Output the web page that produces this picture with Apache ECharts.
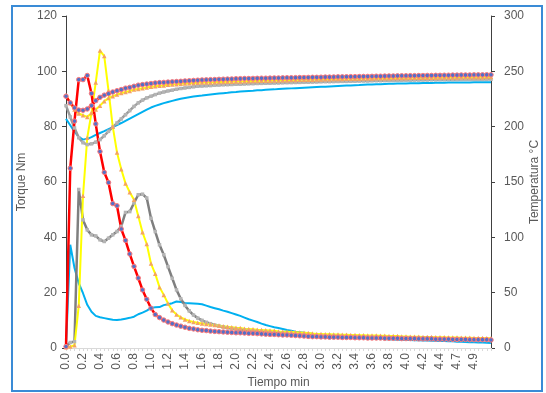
<!DOCTYPE html>
<html>
<head>
<meta charset="utf-8">
<script src="https://cdn.jsdelivr.net/npm/echarts@6/dist/echarts.min.js"></script>
<style>
html,body{margin:0;padding:0;background:#fff;}
#chart{width:546px;height:393px;}
</style>
</head>
<body>
<div id="chart"></div>
<script>
// Time (min) per sample
const times = [
0.00,0.05,0.10,0.15,0.20,0.25,0.30,0.35,0.40,0.45,
0.50,0.55,0.60,0.65,0.70,0.75,0.80,0.85,0.90,0.95,
1.00,1.05,1.10,1.15,1.20,1.25,1.30,1.35,1.40,1.45,
1.50,1.55,1.60,1.65,1.70,1.75,1.80,1.85,1.90,1.95,
2.00,2.05,2.10,2.15,2.20,2.25,2.30,2.35,2.40,2.45,
2.50,2.55,2.60,2.65,2.70,2.75,2.80,2.85,2.90,2.95,
3.00,3.05,3.10,3.15,3.20,3.25,3.30,3.35,3.40,3.45,
3.50,3.55,3.60,3.65,3.70,3.75,3.80,3.85,3.90,3.95,
4.00,4.05,4.10,4.15,4.20,4.25,4.30,4.35,4.40,4.46,
4.52,4.58,4.66,4.71,4.77,4.82,4.88,4.93,4.99,5.04,
5.10];

// Torque (Nm)
const redTorque = [
0.5,65,82,97,97,98.5,92,81,71,63.5,
59.8,52.2,51.4,43,38.9,34,29.5,25.3,21,17.6,
14.4,12.1,11.0,10.1,9.4,8.8,8.3,7.9,7.5,7.1,
6.9,6.6,6.4,6.3,6.1,6.0,5.9,5.8,5.7,5.6,
5.5,5.5,5.4,5.3,5.3,5.2,5.1,5.0,4.9,4.9,
4.8,4.7,4.7,4.6,4.5,4.4,4.3,4.2,4.1,4.1,
4.0,4.0,3.9,3.9,3.9,3.8,3.8,3.8,3.7,3.7,
3.7,3.6,3.6,3.6,3.6,3.5,3.5,3.5,3.5,3.4,
3.4,3.4,3.4,3.3,3.3,3.3,3.3,3.2,3.2,3.2,
3.2,3.1,3.1,3.1,3.1,3.0,3.0,3.0,3.0,3.0,
2.9];
const yellowTorque = [
0.3,0.5,1.0,15.3,55,76,85,96,107.5,105.5,
93,80,70.7,64.6,59.5,56.3,53.6,47.7,41.8,37.6,
30.5,26.8,22,19.2,16.1,13.6,12.1,11.1,10.3,9.8,
9.4,9.1,8.9,8.7,8.5,8.3,8.1,7.9,7.7,7.5,
7.3,7.2,7.0,6.9,6.8,6.6,6.5,6.4,6.3,6.2,
6.0,5.9,5.9,5.8,5.7,5.6,5.5,5.4,5.2,5.1,
5.1,5.0,5.0,4.9,4.9,4.8,4.8,4.7,4.7,4.6,
4.6,4.5,4.5,4.5,4.4,4.4,4.3,4.3,4.3,4.2,
4.2,4.1,4.1,4.1,4.0,4.0,4.0,3.9,3.9,3.9,
3.8,3.8,3.8,3.7,3.7,3.7,3.6,3.6,3.6,3.5,
3.5];
const grayTorque = [
0.5,2.0,2.3,57.3,46.3,42.7,40.9,40.5,39.1,38.5,
39.7,40.9,42.1,44,49,49.3,52.4,55.4,55.6,54.2,
46.9,42.1,37.3,33.7,29.4,25.2,21.0,17.8,15.4,13.4,
11.9,10.8,10.0,9.3,8.8,8.3,7.9,7.6,7.3,7.0,
6.8,6.6,6.5,6.3,6.2,6.0,5.9,5.8,5.6,5.5,
5.4,5.3,5.1,5.0,4.9,4.8,4.7,4.6,4.5,4.5,
4.4,4.4,4.3,4.3,4.2,4.2,4.1,4.1,4.1,4.0,
4.0,3.9,3.9,3.9,3.8,3.8,3.8,3.7,3.7,3.7,
3.6,3.6,3.6,3.5,3.5,3.5,3.4,3.4,3.4,3.3,
3.3,3.3,3.2,3.2,3.2,3.1,3.1,3.1,3.0,3.0,
3.0];
const blueTorque = [
0.5,37.3,28.9,23.4,19.8,15.6,13.1,11.6,11.1,10.8,
10.5,10.2,10.1,10.3,10.6,10.9,11.3,12.2,12.8,13.5,
14.5,14.7,14.8,15.5,15.8,16.2,16.8,16.6,16.3,16.2,
16.1,16.0,15.8,15.3,14.8,14.4,14.0,13.5,13.1,12.6,
12.1,11.6,11.0,10.4,9.9,9.4,8.8,8.3,7.9,7.5,
7.2,6.9,6.5,6.2,5.9,5.7,5.5,5.3,5.1,4.9,
4.7,4.6,4.5,4.3,4.2,4.1,4.0,3.9,3.8,3.7,
3.6,3.5,3.4,3.4,3.3,3.2,3.2,3.1,3.0,3.0,
2.9,2.9,2.8,2.8,2.7,2.7,2.6,2.6,2.5,2.5,
2.4,2.4,2.3,2.3,2.2,2.1,2.1,2.0,2.0,1.9,
1.8];

// Temperature (°C)
const redTemp = [
227.5,221.5,217,215,214.8,216,219,223.5,226.5,228.5,
229.8,231.3,232.5,233.5,234.8,235.5,236.5,237.5,238,238.5,
239,239.5,239.8,240,240.3,240.5,240.8,241,241.3,241.5,
241.8,242,242.2,242.3,242.5,242.6,242.8,242.9,243,243.1,
243.3,243.4,243.5,243.5,243.6,243.7,243.8,243.8,243.9,244,
244,244.1,244.2,244.2,244.3,244.4,244.4,244.5,244.6,244.6,
244.7,244.8,244.8,244.9,245,245,245.1,245.2,245.2,245.3,
245.4,245.4,245.5,245.6,245.6,245.7,245.8,245.8,245.9,246,
246,246.1,246.1,246.2,246.2,246.3,246.3,246.4,246.4,246.5,
246.5,246.6,246.6,246.7,246.7,246.7,246.8,246.8,246.8,246.9,
246.9];
const yellowTemp = [
228.3,221.3,215.5,212,210.3,208.8,212.3,215.5,219,223,
225.8,227.5,229,230.5,231.3,232.3,233.5,234,234.8,235.3,
236,236.5,237,237.3,237.8,238,238.3,238.8,239,239.3,
239.5,239.6,239.8,239.9,240,240.1,240.3,240.4,240.5,240.6,
240.8,240.9,241,241.1,241.2,241.3,241.4,241.5,241.6,241.7,
241.8,241.9,242,242.1,242.2,242.3,242.4,242.5,242.5,242.6,
242.7,242.8,242.9,243,243,243.1,243.2,243.3,243.3,243.4,
243.5,243.5,243.6,243.7,243.7,243.8,243.8,243.9,243.9,244,
244,244.1,244.1,244.2,244.2,244.3,244.3,244.3,244.4,244.4,
244.5,244.5,244.5,244.6,244.6,244.6,244.7,244.7,244.7,244.8,
244.8];
const grayTemp = [
219,208.8,198.8,190,185.5,183.8,184.5,186,188.3,191.8,
195.8,199.5,203.3,207,210.8,214.5,218.3,221.5,224,226,
227.5,229,230.3,231.3,232.3,233,233.8,234.5,235,235.5,
236,236.5,236.7,236.9,237.1,237.5,237.6,237.8,237.9,238.1,
238.3,238.4,238.6,238.7,238.8,239,239.1,239.2,239.3,239.4,
239.5,239.6,239.7,239.8,239.9,240,240.1,240.2,240.3,240.4,
240.5,240.6,240.6,240.7,240.8,240.9,240.9,241,241.1,241.2,
241.3,241.3,241.4,241.5,241.5,241.6,241.7,241.7,241.8,241.9,
242,242,242.1,242.1,242.2,242.2,242.3,242.3,242.4,242.4,
242.5,242.5,242.5,242.6,242.6,242.6,242.7,242.7,242.7,242.8,
242.8];
const blueTemp = [
207,201.3,195.5,190.8,188.3,189,190.5,192.5,194.3,196,
197.8,199.5,201.5,203.3,205.3,207.3,209.3,211.3,213.3,215.3,
217.3,218.8,220,221.3,222.3,223.3,224.3,225.3,226,226.6,
227.2,227.8,228.2,228.7,229.1,229.5,229.9,230.3,230.6,231,
231.3,231.7,232,232.3,232.5,232.8,233,233.3,233.5,233.7,
234,234.2,234.4,234.6,234.8,235,235.2,235.4,235.6,235.8,
236,236.1,236.3,236.5,236.7,236.9,237.1,237.3,237.5,237.6,
237.8,238,238.1,238.3,238.4,238.6,238.7,238.8,238.9,239,
239.1,239.2,239.3,239.3,239.4,239.5,239.5,239.6,239.7,239.7,
239.8,239.8,239.9,239.9,240,240,240.1,240.1,240.2,240.2,
240.2];

const torqueTicks = [0, 20, 40, 60, 80, 100, 120];
const tempTicks = [0, 50, 100, 150, 200, 250, 300];

const FONT = '"Liberation Sans", Arial, sans-serif';
const TXT = '#595959';

function redS(data, axis) {
  return {type:'line', yAxisIndex:axis, data:data, symbol:'circle', symbolSize:4.5,
    showAllSymbol:true,
    lineStyle:{color:'#FF0000', width:2.5},
    itemStyle:{color:'#5470C6', borderColor:'#FF7A7A', borderWidth:1}};
}
function yelS(data, axis) {
  return {type:'line', yAxisIndex:axis, data:data, symbol:'triangle', symbolSize:4.5,
    showAllSymbol:true,
    lineStyle:{color:'#FFFF00', width:2},
    itemStyle:{color:'#F4A460', borderWidth:0}};
}
function grayS(data, axis, lc) {
  return {type:'line', yAxisIndex:axis, data:data, symbol:'rect', symbolSize:3.5,
    showAllSymbol:true,
    lineStyle:{color:lc, width:2.5},
    itemStyle:{color:'#B4B4B4', borderWidth:0}};
}
function blueS(data, axis) {
  return {type:'line', yAxisIndex:axis, data:data, showSymbol:false,
    lineStyle:{color:'#00B0F0', width:2}};
}

const chart = echarts.init(document.getElementById('chart'), null, {renderer:'canvas'});
chart.setOption({
  animation:false,
  backgroundColor:'#ffffff',
  textStyle:{fontFamily:FONT},
  graphic:[{type:'rect', shape:{x:12, y:6, width:530, height:385},
    style:{fill:'none', stroke:'#3A8BD6', lineWidth:2}, z:100}],
  grid:{left:66, right:55, top:16, bottom:45, containLabel:false, outerBoundsMode:'none'},
  xAxis:{
    type:'category', data:times, boundaryGap:false,
    name:'Tiempo min', nameLocation:'middle', nameGap:29, nameMoveOverlap:false,
    nameTextStyle:{color:TXT, fontSize:12, fontFamily:FONT},
    axisLine:{lineStyle:{color:'#D9D9D9', width:1}},
    axisTick:{show:true, interval:0, length:3, lineStyle:{color:'#D9D9D9'}},
    axisLabel:{rotate:90, color:TXT, fontSize:12, fontFamily:FONT, margin:5,
      interval:function(i){ return i % 4 === 0 && i <= 96; },
      formatter:function(v){ return Number(v).toFixed(1); }},
    splitLine:{show:false}
  },
  yAxis:[{
    type:'value', min:torqueTicks[0], max:torqueTicks[torqueTicks.length-1], interval:20,
    name:'Torque Nm', nameLocation:'middle', nameGap:38, nameRotate:90, nameMoveOverlap:false,
    nameTextStyle:{color:TXT, fontSize:12, fontFamily:FONT},
    axisLine:{show:true, lineStyle:{color:'#404040', width:1}},
    axisTick:{show:true, length:4, lineStyle:{color:'#404040'}},
    axisLabel:{color:TXT, fontSize:12, fontFamily:FONT, margin:9},
    splitLine:{show:false}
  },{
    type:'value', min:tempTicks[0], max:tempTicks[tempTicks.length-1], interval:50,
    name:'Temperatura °C', nameLocation:'middle', nameGap:38, nameRotate:90, nameMoveOverlap:false,
    nameTextStyle:{color:TXT, fontSize:12, fontFamily:FONT},
    axisLine:{show:true, lineStyle:{color:'#404040', width:1}},
    axisTick:{show:true, length:4, lineStyle:{color:'#404040'}},
    axisLabel:{color:TXT, fontSize:12, fontFamily:FONT, margin:13},
    splitLine:{show:false}
  }],
  series:[
    blueS(blueTorque, 0),
    blueS(blueTemp, 1),
    grayS(grayTorque, 0, '#7F7F7F'),
    grayS(grayTemp, 1, '#9A9A9A'),
    yelS(yellowTorque, 0),
    yelS(yellowTemp, 1),
    redS(redTorque, 0),
    redS(redTemp, 1)
  ]
});
</script>
</body>
</html>
